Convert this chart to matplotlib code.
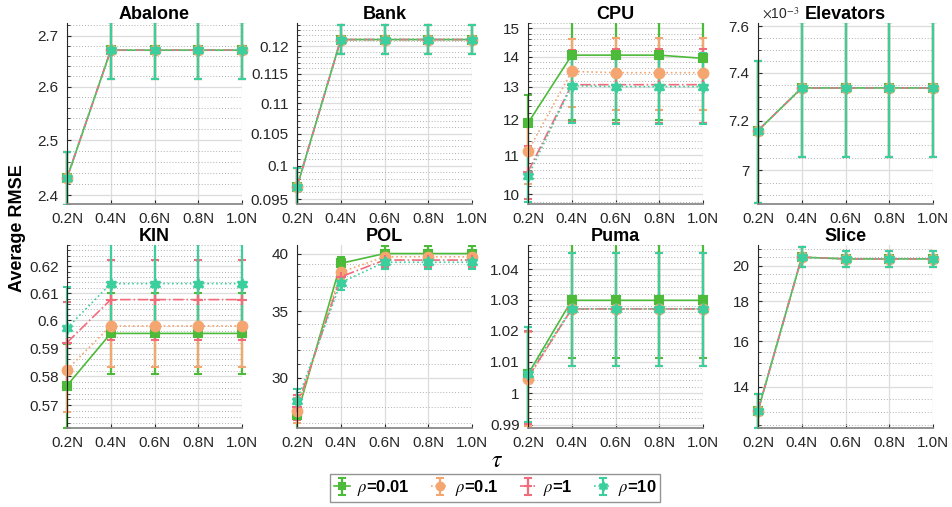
import matplotlib.pyplot as plt
from matplotlib.patches import Rectangle
from matplotlib.ticker import FixedLocator, MultipleLocator, FuncFormatter, NullFormatter

plt.rcParams['font.family'] = ['Liberation Sans', 'DejaVu Sans']
plt.rcParams['mathtext.fontset'] = 'stix'

x = [0.2, 0.4, 0.6, 0.8, 1.0]
x_labels = ['0.2N', '0.4N', '0.6N', '0.8N', '1.0N']
rho_labels = [r'$\rho$=0.01', r'$\rho$=0.1', r'$\rho$=1', r'$\rho$=10']

# rows: rho = 0.01, 0.1, 1, 10
abalone_mean = [[2.431, 2.671, 2.671, 2.671, 2.671]] * 4
abalone_err = [[0.047, 0.056, 0.056, 0.056, 0.056]] * 4

bank_mean = [[0.0968, 0.1212, 0.1212, 0.1212, 0.1212]] * 4
bank_err = [[0.0029, 0.0027, 0.0027, 0.0027, 0.0027]] * 4

cpu_mean = [[11.90, 14.05, 14.05, 14.05, 13.94],
            [11.11, 13.50, 13.46, 13.46, 13.46],
            [10.56, 13.07, 13.07, 13.07, 13.07],
            [10.45, 13.04, 13.01, 13.01, 13.01]]
cpu_err = [[0.84, 2.06, 2.06, 2.06, 2.05],
           [0.85, 1.13, 1.18, 1.18, 1.18],
           [0.68, 1.15, 1.18, 1.18, 1.18],
           [0.65, 1.13, 1.13, 1.13, 1.13]]

elevators_mean = [[7.160e-3, 7.337e-3, 7.337e-3, 7.337e-3, 7.337e-3]] * 4
elevators_err = [[0.290e-3, 0.283e-3, 0.283e-3, 0.283e-3, 0.283e-3]] * 4

kin_mean = [[0.5768, 0.5953, 0.5953, 0.5953, 0.5953],
            [0.5824, 0.5980, 0.5980, 0.5980, 0.5980],
            [0.5920, 0.6076, 0.6076, 0.6076, 0.6076],
            [0.5972, 0.6135, 0.6135, 0.6135, 0.6135]]
kin_err = [[0.0146] * 5, [0.0147] * 5, [0.0146] * 5, [0.0152] * 5]

pol_mean = [[27.5, 39.1, 40.0, 40.0, 40.0],
            [27.8, 38.3, 39.7, 39.7, 39.7],
            [28.0, 37.9, 39.4, 39.4, 39.4],
            [28.4, 37.4, 39.2, 39.2, 39.2]]
pol_err = [[0.9, 0.6, 0.7, 0.7, 0.7],
           [0.8, 0.6, 0.6, 0.6, 0.6],
           [0.8, 0.6, 0.6, 0.6, 0.6],
           [0.8, 0.6, 0.6, 0.6, 0.6]]

puma_mean = [[1.0060, 1.0298, 1.0298, 1.0298, 1.0298],
             [1.0046, 1.0270, 1.0270, 1.0270, 1.0270],
             [1.0050, 1.0270, 1.0270, 1.0270, 1.0270],
             [1.0060, 1.0270, 1.0270, 1.0270, 1.0270]]
puma_err = [[0.0150, 0.0187, 0.0187, 0.0187, 0.0187],
            [0.0150, 0.0185, 0.0185, 0.0185, 0.0185],
            [0.0147, 0.0185, 0.0185, 0.0185, 0.0185],
            [0.0150, 0.0185, 0.0185, 0.0185, 0.0185]]

slice_mean = [[13.05, 20.50, 20.40, 20.40, 20.40]] * 4
slice_err = [[0.64, 0.60, 0.50, 0.50, 0.50]] * 4

# title, means, errors, y-limits, major ticks, minor step, tick scale
panels = [
    ('Abalone', abalone_mean, abalone_err, (2.385, 2.725), [2.4, 2.5, 2.6, 2.7], 0.02, 1),
    ('Bank', bank_mean, bank_err, (0.0943, 0.1243), [0.095, 0.1, 0.105, 0.11, 0.115, 0.12], 0.001, 1),
    ('CPU', cpu_mean, cpu_err, (9.76, 15.2), [10, 11, 12, 13, 14, 15], 0.2, 1),
    ('Elevators', elevators_mean, elevators_err, (6.865e-3, 7.615e-3), [7.0e-3, 7.2e-3, 7.4e-3, 7.6e-3], 0.05e-3, 1e3),
    ('KIN', kin_mean, kin_err, (0.5622, 0.628), [0.57, 0.58, 0.59, 0.6, 0.61, 0.62], 0.002, 1),
    ('POL', pol_mean, pol_err, (26.7, 40.8), [30, 35, 40], 1, 1),
    ('Puma', puma_mean, puma_err, (0.989, 1.048), [0.99, 1.0, 1.01, 1.02, 1.03, 1.04], 0.002, 1),
    ('Slice', slice_mean, slice_err, (12.4, 21.25), [14, 16, 18, 20], 0.5, 1),
]

colors = ['#4dbb3a', '#f5a670', '#f26b7a', '#3ccf9e']
linestyles = ['-', ':', '-.', ':']
markers = ['s', 'o', '+', (6, 1, 0)]
msizes = [6, 7, 7, 8]

W, H = 952, 507
fig = plt.figure(figsize=(W / 100, H / 100), dpi=100)

lefts = [67, 297, 528, 758]
rows = [(23, 204), (245, 428)]
handles = []

for i, (title, means, errs, ylim, majors, minor, scale) in enumerate(panels):
    top, bottom = rows[i // 4]
    left = lefts[i % 4]
    ax = fig.add_axes([left / W, 1 - bottom / H, 175 / W, (bottom - top) / H])
    ax.set_yscale('log')
    # clip vertically at the axes but let edge markers and caps show in full
    clip = Rectangle((-0.06, 0), 1.12, 1, transform=ax.transAxes, visible=False)
    ax.add_patch(clip)
    for k in range(4):
        h = ax.errorbar(x, means[k], yerr=errs[k], color=colors[k], ls=linestyles[k],
                        marker=markers[k], ms=msizes[k], mfc=colors[k], mec=colors[k],
                        mew=1.5, lw=1.2, elinewidth=1.6, capsize=3, capthick=1.2)
        for art in h.get_children():
            art.set_clip_path(clip)
        if i == 0:
            handles.append(h)
    ax.set_xlim(0.2, 1.0)
    ax.set_ylim(*ylim)
    ax.set_xticks(x)
    ax.set_xticklabels(x_labels)
    ax.yaxis.set_major_locator(FixedLocator(majors))
    ax.yaxis.set_minor_locator(MultipleLocator(minor))
    ax.yaxis.set_major_formatter(FuncFormatter(lambda v, p, s=scale: '%g' % round(v * s, 6)))
    ax.yaxis.set_minor_formatter(NullFormatter())

    ax.grid(True, which='major', color='#dcdcdc', lw=0.9, ls='-')
    ax.grid(True, which='minor', axis='y', color='#b0b0b0', lw=0.7, ls=(0, (1, 2)))
    ax.set_axisbelow(True)
    for side in ('top', 'right'):
        ax.spines[side].set_visible(False)
    ax.spines['left'].set_color('#262626')
    ax.spines['bottom'].set_color('#8a8a8a')
    ax.spines['bottom'].set_linewidth(1.3)
    ax.tick_params(axis='both', which='major', direction='in', length=3, labelsize=11,
                   colors='#262626', pad=6)
    ax.tick_params(axis='y', which='minor', direction='in', length=2, colors='#262626')
    ax.tick_params(axis='x', which='minor', bottom=False)
    ax.set_title(title, fontsize=13, fontweight='bold', pad=3)
    if scale != 1:
        ax.text(0.02, 1.01, r'$\times$10$^{-3}$', transform=ax.transAxes, fontsize=10,
                color='#262626', ha='left', va='bottom')

fig.text(18 / W, 1 - 228 / H, 'Average RMSE', rotation=90, fontsize=13,
         fontweight='bold', ha='center', va='center')
fig.text(497 / W, 1 - 461 / H, r'$\tau$', fontsize=17, ha='center', va='center')

leg = fig.legend(handles, rho_labels, loc='center', bbox_to_anchor=(495 / W, 1 - 488 / H),
                 ncol=4, frameon=True, fancybox=False, edgecolor='#7a7a7a',
                 prop={'weight': 'bold', 'size': 12}, handlelength=1.0, handletextpad=0.4,
                 columnspacing=1.3, borderpad=0.25, markerscale=0.8)
leg.get_frame().set_linewidth(1.0)

fig.savefig('out.png', dpi=100)
